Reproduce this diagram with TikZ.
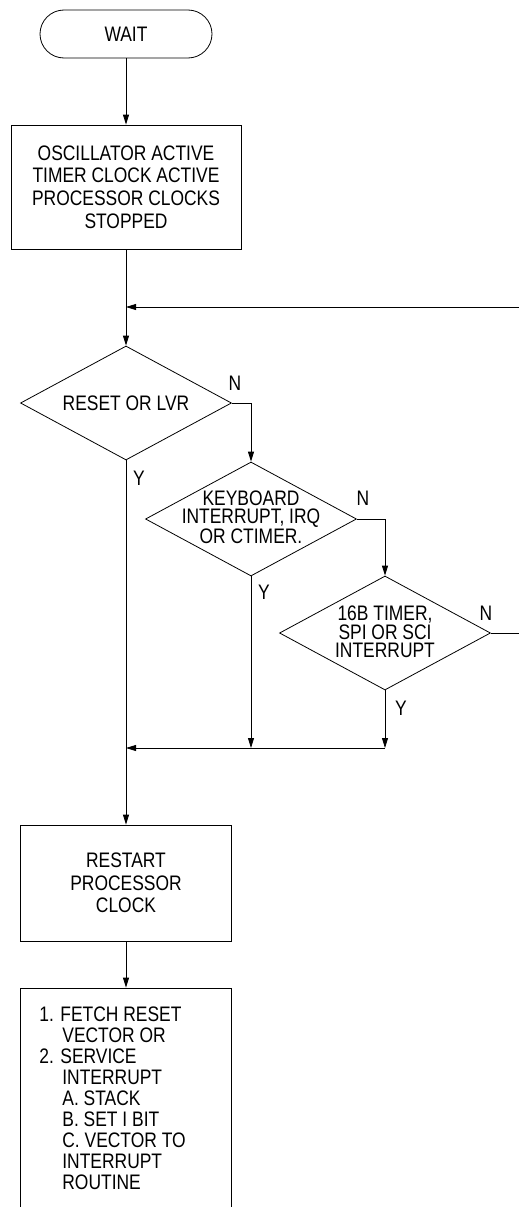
\documentclass[tikz,border=0pt]{standalone}
\usepackage{fontspec}
\setmainfont[FakeStretch=0.83]{Liberation Sans}
\usetikzlibrary{shapes.geometric,arrows.meta}
\begin{document}
\begin{tikzpicture}[x=1pt,y=-1pt, line width=0.8pt,
  every node/.style={font=\fontsize{21}{22.7}\selectfont},
  term/.style={draw, rounded corners=24pt, minimum width=172pt, minimum height=48pt, inner sep=0pt},
  proc/.style={draw, inner sep=0pt, align=center},
  dia/.style={draw, diamond, minimum width=211pt, minimum height=114pt, inner sep=0pt},
  txt/.style={align=center, inner sep=0pt, font=\fontsize{21}{18.5}\selectfont},
  ltxt/.style={align=left, inner sep=0pt, font=\fontsize{21}{21}\selectfont},
  lbl/.style={inner sep=0pt},
  arr/.style={-{Triangle[length=10pt,width=6pt]}}]
\useasboundingbox (0,0) rectangle (519,1207);

% nodes
\node[term] (wait) at (126,34) {WAIT};
\node[proc, minimum width=230pt, minimum height=124pt] (b1) at (126,187)
  {OSCILLATOR ACTIVE\\TIMER CLOCK ACTIVE\\PROCESSOR CLOCKS\\STOPPED};
\node[dia] (d1) at (126,403) {};
\node[txt] (t1) at (126,403) {RESET OR LVR};
\node[dia] (d2) at (251,519) {};
\node[txt] (t2) at (251,517) {KEYBOARD\\INTERRUPT, IRQ\\OR CTIMER.};
\node[dia] (d3) at (385,633) {};
\node[txt] (t3) at (385,632) {16B TIMER,\\SPI OR SCI\\INTERRUPT};
\node[proc, minimum width=211pt, minimum height=116pt] (b2) at (126,883)
  {RESTART\\PROCESSOR\\CLOCK};
\node[proc, minimum width=211pt, minimum height=232pt] (b3) at (126,1104) {};
\node[ltxt, anchor=north west] (t4) at (39,1006)
  {1. FETCH RESET\\
   \hspace*{23pt}VECTOR OR\\
   2. SERVICE\\
   \hspace*{23pt}INTERRUPT\\
   \hspace*{23pt}A. STACK\\
   \hspace*{23pt}B. SET I BIT\\
   \hspace*{23pt}C. VECTOR TO\\
   \hspace*{23pt}INTERRUPT\\
   \hspace*{23pt}ROUTINE};

% labels
\node[lbl] (n1) at (235,383) {N};
\node[lbl] (y1) at (139,478) {Y};
\node[lbl] (n2) at (363,498) {N};
\node[lbl] (y2) at (264,592) {Y};
\node[lbl] (n3) at (486,613) {N};
\node[lbl] (y3) at (401,708) {Y};

% coordinates
\coordinate (fbR) at (519,307);
\coordinate (nR) at (519,633);
\coordinate (m) at (126,748);

% connectors
\draw[arr] (wait) -- (b1);
\draw[arr] (b1) -- (d1);
\draw[arr] (fbR) -- (b1.south |- fbR);
\draw[arr] (d1.east) -| (d2.north);
\draw[arr] (d2.east) -| (d3.north);
\draw (d3.east) -- (nR);
\draw[arr] (d1.south) -- (d1.south |- b2.north);
\draw[arr] (d2.south) -- (d2.south |- m);
\draw[arr] (d3.south) -- (d3.south |- m);
\draw[arr] (d3.south |- m) -- (m);
\draw[arr] (b2) -- (b3);
\end{tikzpicture}
\end{document}
